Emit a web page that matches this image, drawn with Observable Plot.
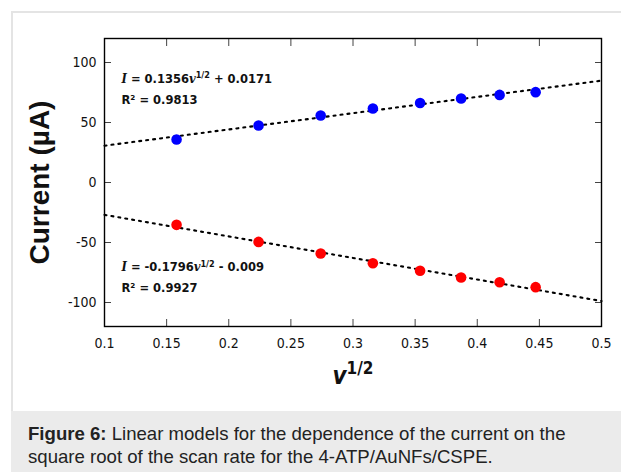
<!DOCTYPE html>
<html>
<head>
<meta charset="utf-8">
<script src="https://cdn.jsdelivr.net/npm/d3@7"></script>
<script src="https://cdn.jsdelivr.net/npm/@observablehq/plot@0.6"></script>
<style>
  html, body { margin: 0; padding: 0; background: #fff; }
  #wrap { position: relative; width: 621px; height: 472px; overflow: hidden; background: #fff; }
  #box { position: absolute; left: 11px; top: 11px; width: 620px; height: 400px;
         border-left: 2px solid #e4e4e4; border-top: 2px solid #e4e4e4; box-sizing: border-box; }
  #chart { position: absolute; left: 0; top: 0; }
  #caption { position: absolute; left: 11px; top: 411px; width: 610px; height: 61px;
             background: #ebebeb; box-sizing: border-box; padding: 11px 0 0 17px; white-space: nowrap;
             font-family: "Liberation Sans", Arial, sans-serif; font-size: 18.6px; line-height: 23px; color: #222; }
</style>
</head>
<body>
<div id="wrap">
  <div id="box"></div>
  <div id="chart"></div>
  <div id="caption"><b>Figure 6:</b> Linear models for the dependence of the current on the<br>square root of the scan rate for the 4-ATP/AuNFs/CSPE.</div>
</div>
<script>
// ---- data ----
const scanRoot = [0.158, 0.224, 0.274, 0.316, 0.354, 0.387, 0.418, 0.447];   // v^1/2
const anodic   = [35.8, 47.5, 55.8, 61.7, 66.3, 70.0, 73.0, 75.3];          // blue, µA
const cathodic = [-35.3, -49.5, -59.2, -67.3, -73.6, -79.2, -83.1, -87.2];  // red, µA
const seriesNames  = ["anodic", "cathodic"];
const seriesColors = ["#0000ff", "#ff0000"];
const fitSlopes     = [135.6, -179.6];
const fitIntercepts = [17.1, -9.0];
const fitLabels = ["I = 0.1356v^1/2 + 0.0171", "I = -0.1796v^1/2 - 0.009"];
const r2Labels  = ["R\u00b2 = 0.9813", "R\u00b2 = 0.9927"];
const xTicks = [0.1, 0.15, 0.2, 0.25, 0.3, 0.35, 0.4, 0.45, 0.5];
const yTicks = [-100, -50, 0, 50, 100];
const xDomain = [0.1, 0.5];
const yDomain = [-120, 120];
const xLabel = "v^1/2";
const yLabel = "Current (\u00b5A)";

// ---- tables built from the arrays ----
const points = [];
scanRoot.forEach((x, i) => {
  points.push({x, y: anodic[i], s: seriesNames[0]});
  points.push({x, y: cathodic[i], s: seriesNames[1]});
});
const fits = [];
seriesNames.forEach((s, k) => xDomain.forEach(x => fits.push({s, x, y: fitSlopes[k] * x + fitIntercepts[k]})));

const eqFont = "'DejaVu Sans', sans-serif";
const eqSize = 12.8;
const chart = Plot.plot({
  width: 621, height: 410,
  marginLeft: 104, marginRight: 20, marginTop: 38, marginBottom: 84,
  style: {fontFamily: "'DejaVu Sans Condensed','DejaVu Sans',sans-serif", fontStretch: "condensed", fontSize: "14px", color: "#111", background: "transparent", overflow: "visible"},
  x: {domain: xDomain},
  y: {domain: yDomain},
  color: {domain: seriesNames, range: seriesColors},
  marks: [
    Plot.line(fits, {x: "x", y: "y", z: "s", stroke: "#000", strokeWidth: 2.1, strokeDasharray: "2,5"}),
    Plot.dot(points, {x: "x", y: "y", fill: "s", r: 5.3}),
    Plot.axisX(xTicks, {anchor: "bottom", tickSize: 0, tickPadding: 12, tickFormat: d => String(d), label: null}),
    Plot.axisX(xTicks, {anchor: "bottom", tickSize: -7, tickFormat: () => "", label: null, stroke: "#444"}),
    Plot.axisX(xTicks, {anchor: "top", tickSize: -7, tickFormat: () => "", label: null, stroke: "#444"}),
    Plot.axisY(yTicks, {anchor: "left", tickSize: 0, tickPadding: 8, tickFormat: d => String(d), label: null}),
    Plot.axisY(yTicks, {anchor: "left", tickSize: -7, tickFormat: () => "", label: null, stroke: "#444"}),
    Plot.axisY(yTicks, {anchor: "right", tickSize: -7, tickFormat: () => "", label: null, stroke: "#444"}),
    Plot.frame({stroke: "#000", strokeWidth: 1.4}),
    // equations
    Plot.text([fitLabels[0]], {text: d => d, frameAnchor: "top-left", dx: 17, dy: 44, textAnchor: "start", lineAnchor: "bottom", fontFamily: eqFont, fontWeight: "bold", fontSize: eqSize, fill: "#111"}),
    Plot.text([r2Labels[0]], {text: d => d, frameAnchor: "top-left", dx: 17, dy: 65.5, textAnchor: "start", lineAnchor: "bottom", fontFamily: eqFont, fontWeight: "bold", fontSize: eqSize, fill: "#111"}),
    Plot.text([fitLabels[1]], {text: d => d, frameAnchor: "top-left", dx: 17, dy: 232.5, textAnchor: "start", lineAnchor: "bottom", fontFamily: eqFont, fontWeight: "bold", fontSize: eqSize, fill: "#111"}),
    Plot.text([r2Labels[1]], {text: d => d, frameAnchor: "top-left", dx: 17, dy: 253.5, textAnchor: "start", lineAnchor: "bottom", fontFamily: eqFont, fontWeight: "bold", fontSize: eqSize, fill: "#111"}),
    // axis titles
    Plot.text([yLabel], {text: d => d, frameAnchor: "left", dx: -64, rotate: -90, textAnchor: "middle", lineAnchor: "middle", fontFamily: "'Liberation Sans', Arial, sans-serif", fontWeight: "bold", fontSize: 28, fill: "#111"}),
    Plot.text([xLabel], {text: d => d, frameAnchor: "bottom", dy: 57, textAnchor: "middle", lineAnchor: "bottom", fontFamily: eqFont, fontWeight: "bold", fontSize: 24, fill: "#111"})
  ]
});
document.getElementById("chart").appendChild(chart);

// rich text: italic I, italic v, superscript 1/2
d3.select(chart).selectAll("text").each(function () {
  const t = this.textContent;
  if (!t.includes("^")) return;
  const sel = d3.select(this);
  sel.text(null);
  if (t === xLabel) {
    sel.append("tspan").attr("font-style", "oblique").text("v");
    sel.append("tspan").attr("font-size", 17).attr("dy", -10).text("1/2");
    return;
  }
  const m = t.match(/^(I)(.*?)(v)\^(1\/2)(.*)$/);
  sel.append("tspan").attr("font-family", "'DejaVu Serif', serif").attr("font-style", "italic").text(m[1]);
  sel.append("tspan").text(m[2]);
  sel.append("tspan").attr("font-family", "'DejaVu Serif', serif").attr("font-style", "italic").text(m[3]);
  sel.append("tspan").attr("font-size", 9).attr("dy", -4.5).text(m[4]);
  sel.append("tspan").attr("dy", 4.5).text(m[5]);
});
</script>
</body>
</html>
